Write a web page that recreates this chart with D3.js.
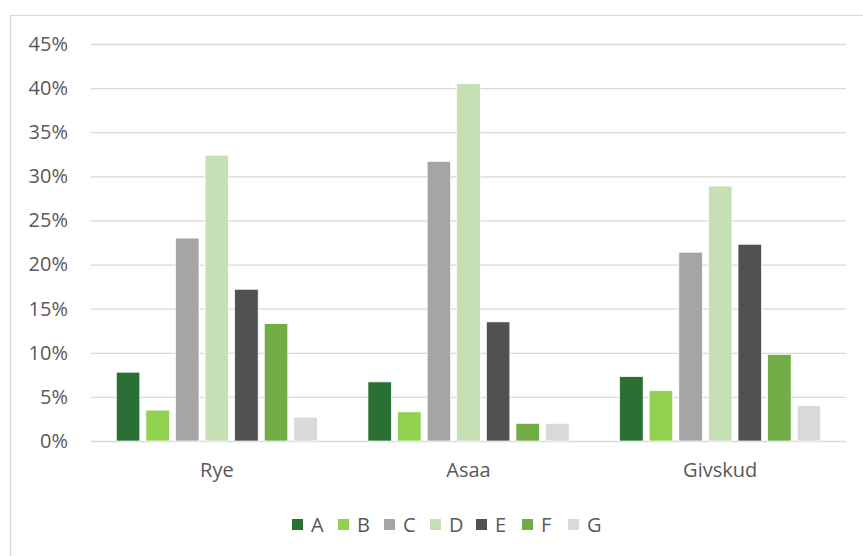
<!DOCTYPE html>
<html>
<head>
<meta charset="utf-8">
<script src="https://cdn.jsdelivr.net/npm/d3@7"></script>
<style>
  html, body { margin: 0; padding: 0; background: #fff; }
  svg { display: block; font-family: "Open Sans", "Noto Sans", sans-serif; }
</style>
</head>
<body>
<svg id="chart" width="863" height="556"></svg>
<script>
const categories = ["Rye", "Asaa", "Givskud"];
const seriesNames = ["A", "B", "C", "D", "E", "F", "G"];
const seriesColors = ["#2a7034", "#92d050", "#a5a5a5", "#c5e0b4", "#515151", "#70ad47", "#d9d9d9"];
const seriesA = [7.8, 6.7, 7.3];
const seriesB = [3.5, 3.3, 5.7];
const seriesC = [23.0, 31.7, 21.4];
const seriesD = [32.4, 40.5, 28.9];
const seriesE = [17.2, 13.5, 22.3];
const seriesF = [13.3, 2.0, 9.8];
const seriesG = [2.7, 2.0, 4.0];
const yTicks = [0, 5, 10, 15, 20, 25, 30, 35, 40, 45];

const seriesValues = [seriesA, seriesB, seriesC, seriesD, seriesE, seriesF, seriesG];
const data = categories.map((c, i) => ({
  cat: c,
  vals: seriesNames.map((s, j) => ({ s, v: seriesValues[j][i], color: seriesColors[j] }))
}));

const svg = d3.select("#chart");
const textColor = "#595959";
const fontSize = 20;

// outer border (chart area frame)
svg.append("rect")
  .attr("x", 10.5).attr("y", 15.5)
  .attr("width", 900).attr("height", 600)
  .attr("fill", "none").attr("stroke", "#d9d9d9").attr("stroke-width", 1.3);

const plotLeft = 91, plotRight = 846, plotTop = 44, plotBottom = 441;

const x0 = d3.scaleBand().domain(categories).range([plotLeft, plotRight]).padding(0);
const x1 = d3.scaleBand().domain(seriesNames).range([0, x0.bandwidth()])
  .paddingInner(0.206).paddingOuter(0.855);
const y = d3.scaleLinear().domain([0, 45]).range([plotBottom, plotTop]);

// gridlines + y labels
const yAxis = d3.axisLeft(y).tickValues(yTicks).tickSize(-(plotRight - plotLeft))
  .tickFormat(d => d + "%").tickPadding(23);
const gy = svg.append("g").attr("transform", `translate(${plotLeft},0)`).call(yAxis);
gy.select(".domain").remove();
gy.selectAll(".tick line").attr("stroke", "#d9d9d9").attr("stroke-width", 1.3);
gy.selectAll(".tick text").attr("fill", textColor).attr("font-size", fontSize)
  .attr("font-family", "'Open Sans', sans-serif");

// bars
const groups = svg.append("g").selectAll("g").data(data).join("g")
  .attr("transform", d => `translate(${x0(d.cat)},0)`);
groups.selectAll("rect").data(d => d.vals).join("rect")
  .attr("x", d => x1(d.s))
  .attr("y", d => y(d.v))
  .attr("width", x1.bandwidth())
  .attr("height", d => y(0) - y(d.v))
  .attr("fill", d => d.color)
  .attr("stroke", "#ffffff").attr("stroke-width", 0.7);

// category axis
const xAxis = d3.axisBottom(x0).tickSize(0).tickPadding(22);
const gx = svg.append("g").attr("transform", `translate(0,${plotBottom})`).call(xAxis);
gx.select(".domain").remove();
gx.selectAll(".tick text").attr("fill", textColor).attr("font-size", fontSize)
  .attr("font-family", "'Open Sans', sans-serif");

// legend
const legendX = d3.scalePoint().domain(seriesNames).range([292, 568]);
const lg = svg.append("g").selectAll("g").data(seriesNames).join("g")
  .attr("transform", d => `translate(${legendX(d)},519)`);
lg.append("rect").attr("width", 11).attr("height", 11)
  .attr("fill", (d, i) => seriesColors[i]);
lg.append("text").attr("x", 19).attr("y", 12.5)
  .attr("fill", textColor).attr("font-size", fontSize)
  .text(d => d);
</script>
</body>
</html>
